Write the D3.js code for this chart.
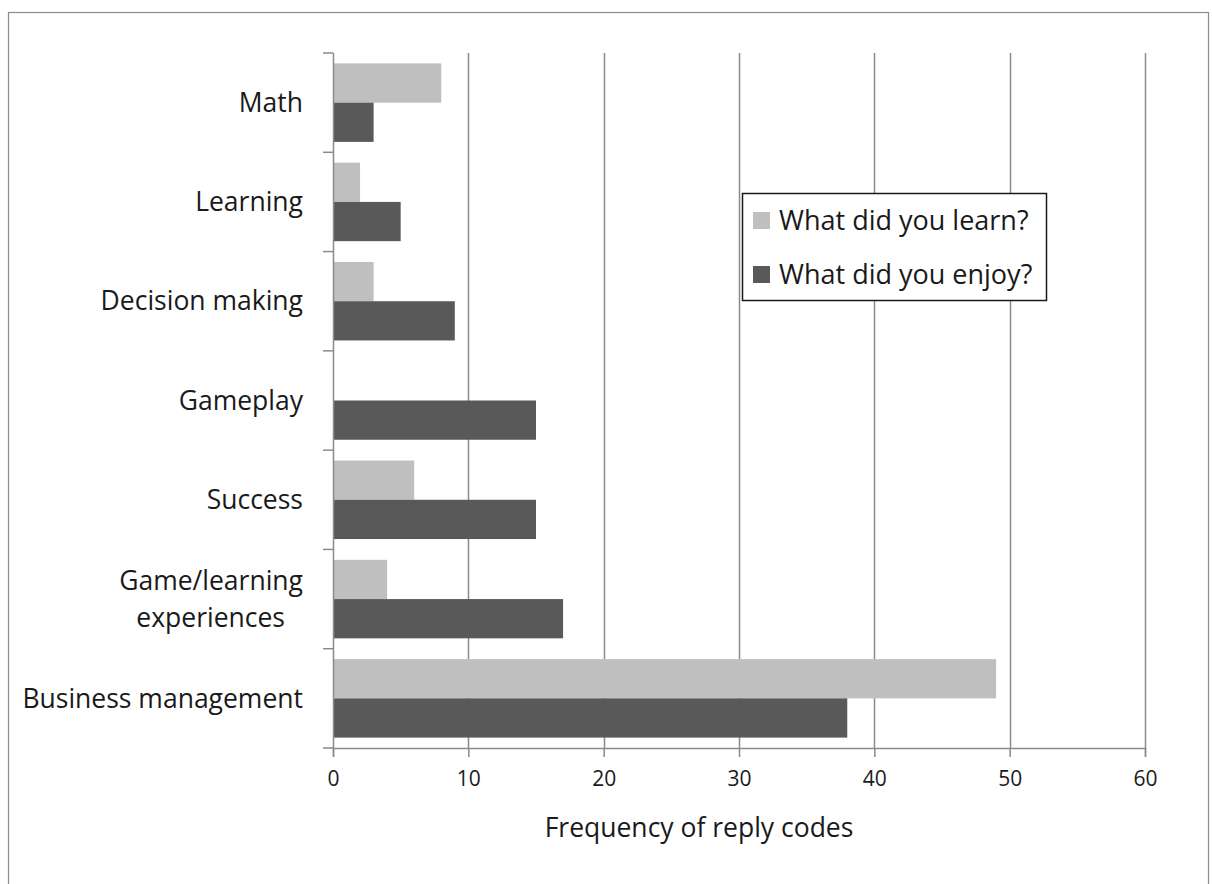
<!DOCTYPE html>
<html>
<head>
<meta charset="utf-8">
<script src="https://cdn.jsdelivr.net/npm/d3@7"></script>
<style>
  body { margin: 0; background: #fff; }
  text { font-family: "Open Sans", Lato, sans-serif; fill: #1a1a1a; }
</style>
</head>
<body>
<div id="chart"></div>
<script>

// data
var categories = ["Math", "Learning", "Decision making", "Gameplay", "Success", "Game/learning experiences", "Business management"];
var seriesNames = ["What did you learn?", "What did you enjoy?"];
var learnValues = [8, 2, 3, 0, 6, 4, 49];
var enjoyValues = [3, 5, 9, 15, 15, 17, 38];
var xTicks = [0, 10, 20, 30, 40, 50, 60];
var colors = ["#bfbfbf", "#595959"];

var W = 1212, H = 884;
var margin = {top: 53, right: 67, bottom: 136, left: 333};

var svg = d3.select("#chart")
  .append("svg")
    .attr("width", W)
    .attr("height", H);

// outer frame
svg.append("rect")
  .attr("x", 8.5).attr("y", 12.5)
  .attr("width", 1200).attr("height", 900)
  .attr("fill", "none")
  .attr("stroke", "#8c8c8c")
  .attr("stroke-width", 1.2);

var x = d3.scaleLinear()
  .domain([0, 60])
  .range([margin.left, W - margin.right]);

var y = d3.scaleBand()
  .domain(categories)
  .range([margin.top, H - margin.bottom])
  .padding(0);

var ySub = d3.scaleBand()
  .domain(seriesNames)
  .range([0, y.bandwidth()])
  .paddingInner(0)
  .paddingOuter(0.265);

// vertical gridlines
svg.append("g")
  .selectAll("line")
  .data(xTicks.slice(1))
  .join("line")
    .attr("x1", function(d) { return Math.round(x(d)) + 0.5; })
    .attr("x2", function(d) { return Math.round(x(d)) + 0.5; })
    .attr("y1", margin.top)
    .attr("y2", H - margin.bottom)
    .attr("stroke", "#8a8a8a")
    .attr("stroke-width", 1.5);

// bars
var rows = categories.map(function(c, i) {
  return {cat: c, vals: [learnValues[i], enjoyValues[i]]};
});

var groups = svg.append("g")
  .selectAll("g")
  .data(rows)
  .join("g")
    .attr("transform", function(d) { return "translate(0," + y(d.cat) + ")"; });

groups.selectAll("rect")
  .data(function(d) { return d.vals.map(function(v, j) { return {s: seriesNames[j], v: v, j: j}; }); })
  .join("rect")
    .attr("x", x(0))
    .attr("y", function(d) { return ySub(d.s); })
    .attr("height", ySub.bandwidth())
    .attr("width", function(d) { return x(d.v) - x(0); })
    .attr("fill", function(d) { return colors[d.j]; });

// x axis
var xAxis = svg.append("g")
  .attr("transform", "translate(0," + (H - margin.bottom) + ")")
  .call(d3.axisBottom(x).tickValues(xTicks).tickSize(9).tickPadding(14));
xAxis.selectAll("text")
  .style("font-size", "21px")
  .style("font-family", "'Open Sans', sans-serif")
  .attr("fill", "#1a1a1a");

// y axis with ticks at band edges
var yAxis = svg.append("g")
  .attr("transform", "translate(" + margin.left + ",0)");
yAxis.append("line")
  .attr("x1", 0.5).attr("x2", 0.5)
  .attr("y1", margin.top).attr("y2", H - margin.bottom)
  .attr("stroke", "#8a8a8a").attr("stroke-width", 1.5);
var edges = categories.map(function(c) { return y(c); }).concat([H - margin.bottom]);
yAxis.selectAll("line.tk")
  .data(edges)
  .join("line")
    .attr("class", "tk")
    .attr("x1", -10).attr("x2", 0)
    .attr("y1", function(d) { return d; })
    .attr("y2", function(d) { return d; })
    .attr("stroke", "#8a8a8a").attr("stroke-width", 1.5);

xAxis.selectAll(".domain, .tick line").attr("stroke", "#8a8a8a").attr("stroke-width", 1.5);

// category labels
var labels = svg.append("g")
  .selectAll("text")
  .data(categories)
  .join("text")
    .attr("x", 303)
    .attr("y", function(d) { return y(d) + y.bandwidth() / 2; })
    .attr("text-anchor", "end")
    .style("font-size", "26.5px");

labels.each(function(d) {
  var t = d3.select(this);
  if (d === "Game/learning experiences") {
    t.append("tspan").attr("x", 303).attr("dy", "-0.35em").text("Game/learning");
    t.append("tspan").attr("x", 285).attr("dy", "1.42em").text("experiences");
  } else {
    t.attr("dy", "0.35em").text(d);
  }
});

// axis title
svg.append("text")
  .attr("x", 699)
  .attr("y", 837)
  .attr("text-anchor", "middle")
  .style("font-size", "26.5px")
  .text("Frequency of reply codes");

// legend
var legend = svg.append("g").attr("transform", "translate(742,193)");
legend.append("rect")
  .attr("x", 0.5).attr("y", 0.5)
  .attr("width", 304).attr("height", 107)
  .attr("fill", "#fff")
  .attr("stroke", "#1a1a1a")
  .attr("stroke-width", 1.5);
var items = legend.selectAll("g.item")
  .data(seriesNames)
  .join("g")
    .attr("class", "item")
    .attr("transform", function(d, i) { return "translate(11," + (19 + i * 54) + ")"; });
items.append("rect")
  .attr("width", 17).attr("height", 17)
  .attr("fill", function(d, i) { return colors[i]; });
items.append("text")
  .attr("x", 26)
  .attr("y", 8.5)
  .attr("dy", "0.35em")
  .style("font-size", "27px")
  .text(function(d) { return d; });

</script>
</body>
</html>
